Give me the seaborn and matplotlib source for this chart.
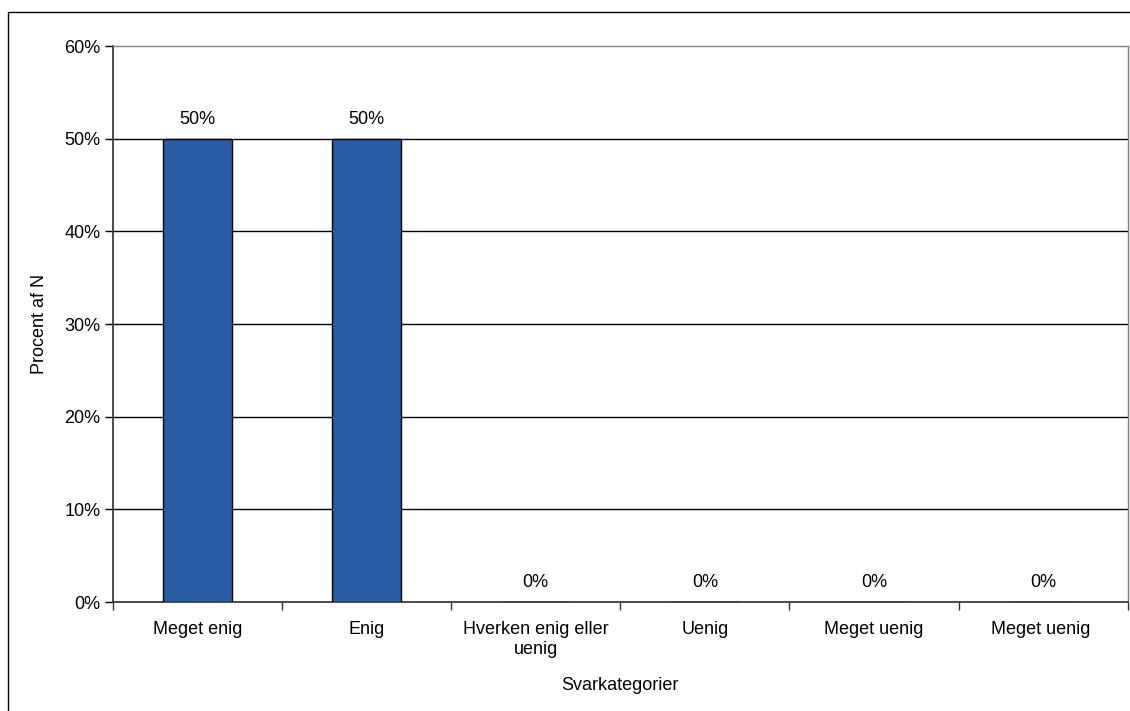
import matplotlib
matplotlib.use("Agg")
import matplotlib.pyplot as plt
import seaborn as sns
import pandas as pd
from matplotlib.patches import Rectangle
from matplotlib.ticker import FixedLocator

# data
categories = ["Meget enig", "Enig", "Hverken enig eller\nuenig", "Uenig", "Meget uenig", "Meget uenig "]
percent = [50, 50, 0, 0, 0, 0]
y_ticks = [0, 10, 20, 30, 40, 50, 60]

sns.set_theme(style="white")
plt.rcParams['font.family'] = ['Liberation Sans', 'DejaVu Sans']
plt.rcParams['text.color'] = 'black'
plt.rcParams['axes.labelcolor'] = 'black'
plt.rcParams['xtick.color'] = 'black'
plt.rcParams['ytick.color'] = 'black'

FS = 13

df = pd.DataFrame({"kategori": categories, "procent": percent})

fig = plt.figure(figsize=(11.3, 7.11), dpi=100)
ax = fig.add_axes([0.1, 0.1533, 0.898, 0.782])

sns.barplot(data=df, x="kategori", y="procent", color="#2A5CA3", width=0.41,
            edgecolor="black", linewidth=1, saturation=1, ax=ax, zorder=3)

ax.set_ylim(0, 60)
ax.set_xlim(-0.5, len(categories) - 0.5)
ax.set_yticks(y_ticks)
ax.set_yticklabels([f"{v}%" for v in y_ticks], fontsize=FS)
ax.set_xticks(range(len(categories)))
ax.set_xticklabels(categories, fontsize=FS, linespacing=1.2)
ax.tick_params(axis="x", length=0, pad=14)
ax.tick_params(axis="y", length=6, width=1, direction="out", pad=3, left=True)
# tick marks between categories
ax.xaxis.set_minor_locator(FixedLocator([i - 0.5 for i in range(len(categories) + 1)]))
ax.tick_params(axis="x", which="minor", length=6, width=1, color="#333333", direction="out", bottom=True)

for v in y_ticks[1:-1]:
    ax.axhline(v, color="black", linewidth=1, zorder=1)

for s in ["top", "right"]:
    ax.spines[s].set_color("#808080")
    ax.spines[s].set_linewidth(1)
ax.spines["left"].set_color("#333333")
ax.spines["bottom"].set_color("#333333")

for i, v in enumerate(percent):
    ax.text(i, v + 1.2, f"{v}%", ha="center", va="bottom", fontsize=FS)

ax.set_xlabel("Svarkategorier", fontsize=FS, labelpad=14)
ax.set_ylabel("Procent af N", fontsize=FS, labelpad=12)

# outer frame of the chart
fig.patches.append(Rectangle((8 / 1130, -0.01), 1.1, 1 - 12 / 711 + 0.01, transform=fig.transFigure,
                             fill=False, edgecolor="black", linewidth=1))

fig.savefig("out.png", dpi=100)
